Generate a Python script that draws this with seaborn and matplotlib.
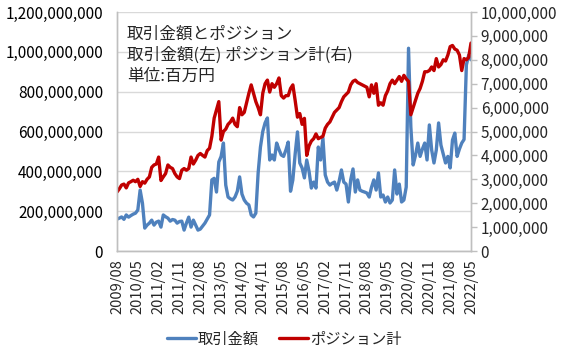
import numpy as np
import pandas as pd
import seaborn as sns
import matplotlib.pyplot as plt
from matplotlib.ticker import FuncFormatter

# monthly labels 2009/08 .. 2022/05
months = pd.date_range('2009-08-01', '2022-05-01', freq='MS').strftime('%Y/%m').tolist()

# 取引金額 (million yen)
amount = [160, 165, 171, 159, 181, 170, 178, 185, 190, 206,
          306, 240, 115, 130, 140, 155, 130, 145, 150, 120,
          181, 172, 165, 150, 158, 155, 140, 148, 150, 105,
          140, 170, 120, 155, 130, 105, 110, 125, 140, 160,
          181, 357, 365, 296, 447, 475, 542, 331, 271, 262,
          256, 271, 300, 372, 286, 256, 240, 231, 181, 171,
          190, 392, 522, 600, 643, 668, 457, 482, 457, 542,
          510, 482, 475, 507, 547, 300, 357, 487, 598, 442,
          417, 367, 457, 400, 316, 346, 316, 522, 457, 567,
          382, 346, 331, 340, 346, 306, 350, 407, 346, 336,
          246, 357, 412, 296, 357, 306, 300, 296, 291, 271,
          320, 357, 306, 392, 271, 281, 246, 271, 241, 256,
          407, 286, 336, 246, 256, 321, 1018, 623, 432, 480,
          542, 475, 512, 542, 457, 633, 507, 442, 507, 643,
          532, 487, 442, 475, 417, 557, 592, 475, 512, 542,
          560, 934, 984, 960]

# ポジション計 (million)
position = [2.47, 2.60, 2.76, 2.80, 2.64, 2.85, 2.90, 2.96, 2.90, 3.00,
            2.70, 2.90, 2.84, 3.00, 3.10, 3.50, 3.60, 3.64, 3.93, 2.95,
            3.10, 3.24, 3.60, 3.50, 3.45, 3.24, 3.10, 3.03, 3.38, 3.45,
            3.38, 3.45, 3.93, 3.64, 3.80, 4.00, 4.08, 4.00, 3.93, 4.20,
            4.30, 4.80, 5.56, 5.90, 6.25, 4.64, 5.00, 5.10, 5.30, 5.40,
            5.56, 5.30, 5.20, 6.00, 5.70, 5.80, 6.20, 6.60, 6.95, 6.60,
            6.25, 6.00, 5.70, 6.60, 7.00, 7.15, 6.65, 7.00, 6.85, 7.00,
            7.24, 6.50, 6.40, 6.50, 6.50, 6.80, 6.95, 6.30, 5.60, 5.75,
            5.30, 5.55, 4.00, 4.40, 4.60, 4.70, 4.90, 4.70, 4.75, 4.80,
            5.14, 5.30, 5.40, 5.60, 5.80, 5.90, 6.00, 6.25, 6.45, 6.55,
            6.65, 6.95, 7.10, 7.15, 7.05, 7.00, 6.95, 6.90, 6.85, 6.45,
            6.95, 6.60, 7.00, 6.10, 6.20, 6.10, 6.50, 6.70, 7.00, 7.15,
            7.00, 7.15, 7.30, 7.10, 7.35, 7.20, 7.10, 5.70, 6.00, 6.30,
            6.60, 6.80, 7.10, 7.50, 7.50, 7.55, 7.70, 7.55, 8.05, 7.70,
            7.80, 8.00, 7.95, 8.20, 8.55, 8.60, 8.45, 8.40, 8.20, 7.55,
            8.05, 8.00, 8.10, 8.70]

df = pd.DataFrame({
    'pos': np.arange(len(months)),
    'month': months,
    'amount': np.array(amount) * 1e6,
    'position': np.array(position) * 1e6,
})

sns.set_style('white')
plt.rcParams['font.family'] = ['Noto Sans CJK JP', 'DejaVu Sans']

BLUE = '#4F81BD'
RED = '#C00000'
GRID = '#D9D9D9'
AXIS = '#BFBFBF'

fig = plt.figure(figsize=(5.68, 3.51), dpi=100)
ax = fig.add_axes([117 / 568, 1 - 251 / 351, (471 - 117) / 568, (251 - 12) / 351])
ax2 = ax.twinx()

sns.lineplot(data=df, x='pos', y='amount', ax=ax, color=BLUE, linewidth=2.4, label='取引金額', legend=False)
sns.lineplot(data=df, x='pos', y='position', ax=ax2, color=RED, linewidth=2.4, label='ポジション計', legend=False)

comma = FuncFormatter(lambda v, p: f'{int(v):,}')

ax.set_ylim(0, 1.2e9)
ax.set_yticks(np.arange(0, 1.2e9 + 1, 2e8))
ax.yaxis.set_major_formatter(comma)
ax2.set_ylim(0, 1e7)
ax2.set_yticks(np.arange(0, 1e7 + 1, 1e6))
ax2.yaxis.set_major_formatter(comma)

ax.set_xlim(0, len(months) - 1)
ax.set_xticks(df['pos'][::9])
ax.set_xticklabels(df['month'][::9], rotation=90)

ax.grid(axis='y', color=GRID, linewidth=1)
ax.set_axisbelow(True)
ax.set_xlabel('')
ax.set_ylabel('')
ax2.set_ylabel('')

for a in (ax, ax2):
    for s in a.spines.values():
        s.set_color(AXIS)
        s.set_linewidth(1)
    a.spines['top'].set_visible(False)

ax.tick_params(axis='y', length=0, pad=10, labelsize=11, labelcolor='black')
ax.tick_params(axis='x', length=4, width=1, color=AXIS, pad=2, labelsize=10.5)
ax2.tick_params(axis='y', length=4, width=1, color=AXIS, pad=3, labelsize=11)

# title block
fig.text(127 / 568, 1 - 34 / 351, '取引金額とポジション', fontsize=12, va='center')
fig.text(127 / 568, 1 - 55 / 351, '取引金額(左) ポジション計(右)', fontsize=12, va='center')
fig.text(127 / 568, 1 - 76 / 351, '単位:百万円', fontsize=12, va='center')

h1, l1 = ax.get_legend_handles_labels()
h2, l2 = ax2.get_legend_handles_labels()
fig.legend(h1 + h2, l1 + l2, loc='center', bbox_to_anchor=(0.5, 1 - 339 / 351),
           ncol=2, frameon=False, fontsize=11, handlelength=1.9,
           handletextpad=0.15, columnspacing=1.3)

fig.savefig('out.png', dpi=100)
